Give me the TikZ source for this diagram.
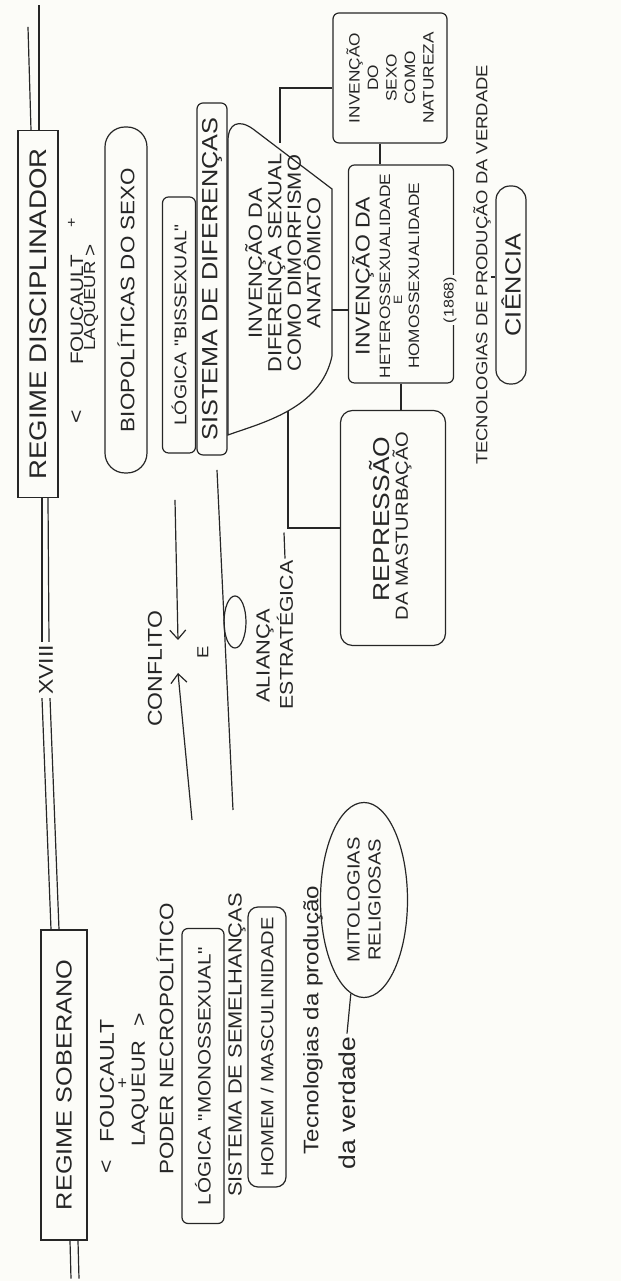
\documentclass[tikz,border=0pt]{standalone}
\usepackage{fontspec}
\setmainfont{Liberation Sans}
\newfontfamily\hand[FakeStretch=1.15]{Liberation Sans}
\usetikzlibrary{arrows.meta,shapes.geometric}
\definecolor{ink}{RGB}{38,38,38}
\definecolor{paper}{RGB}{252,252,248}
\newcommand{\myfs}[2]{\fontsize{#1}{#2}\selectfont}
\begin{document}
\begin{tikzpicture}[x=1pt,y=1pt,
  pen/.style={draw=ink, line width=1.2pt},
  txt/.style={text=ink, inner sep=0pt},
  box/.style={pen, text=ink, inner sep=0pt, rectangle},
  rbox/.style={box, rounded corners=6pt},
  arr/.style={pen, -{Straight Barb[length=9pt,width=16pt]}}]
\begin{scope}[rotate=90, transform shape]
\path[use as bounding box] (0,0) rectangle (1281,621);
\fill[paper] (0,0) rectangle (1281,621);

% ---------- timeline ----------
\node[box, minimum width=310pt, minimum height=46pt, font={\hand\myfs{22}{26}}] (sob) at (196,557) {REGIME SOBERANO};
\node[txt, inner sep=3pt, font={\hand\myfs{20}{24}}] (xv) at (611,575) {XVIII};
\node[box, minimum width=367pt, minimum height=40pt, font={\hand\myfs{24}{28}}] (dis) at (967,583) {REGIME DISCIPLINADOR};
\draw[pen] ([yshift=-6pt]sob.west) -- ++(-38,-1);
\draw[pen] ([yshift=-14pt]sob.west) -- ++(-38,-1);
\draw[pen] ([yshift=13pt]sob.east) -- ([yshift=4pt]xv.west);
\draw[pen] ([yshift=5pt]sob.east) -- ([yshift=-4pt]xv.west);
\draw[pen] ([yshift=4pt]xv.east) -- ([yshift=-4pt]dis.west);
\draw[pen] ([yshift=-3pt]xv.east) -- ([yshift=-10pt]dis.west);
\draw[pen] ([yshift=7pt]dis.east) -- ++(103,3);
\draw[pen] ([yshift=-1pt]dis.east) -- ++(125,0);

% ---------- regime soberano side ----------
\node[txt, font={\hand\myfs{20}{22}}] (slt) at (114,514) {<};
\node[txt, font={\hand\myfs{20}{22}}] (sfou) at (200,514) {FOUCAULT};
\node[txt, font={\hand\myfs{16}{18}}] (splus) at (198,498) {+};
\node[txt, font={\hand\myfs{19}{22}}] (slaq) at (187,481) {LAQUEUR};
\node[txt, font={\hand\myfs{20}{22}}] (sgt) at (261,481) {>};
\node[txt, font={\hand\myfs{19.5}{22}}] (nec) at (242,456) {PODER NECROPOLÍTICO};
\node[rbox, minimum width=295pt, minimum height=42pt, font={\hand\myfs{18}{20}}] (lmo) at (205,418) {LÓGICA "MONOSSEXUAL"};
\node[txt, font={\hand\myfs{19}{21}}] (sem) at (236,384) {SISTEMA DE SEMELHANÇAS};
\node[rbox, rounded corners=10pt, minimum width=280pt, minimum height=38pt, font={\hand\myfs{17.5}{20}}] (hom) at (234,354) {HOMEM / MASCULINIDADE};
\node[txt, font={\hand\myfs{21}{24}}] (tp) at (261,308) {Tecnologias da produção};
\node[txt, font={\hand\myfs{23}{26}}] (ver) at (178,274) {da verdade};
\node[pen, ellipse, text=ink, inner sep=0pt, minimum width=195pt, minimum height=87pt, align=center, font={\hand\myfs{17.5}{21}}] (mito) at (381,257) {MITOLOGIAS\\RELIGIOSAS};
\draw[pen] ([xshift=3pt]ver.east) -- (mito.172);

% ---------- conflito / alianca ----------
\node[txt, font={\hand\myfs{20}{22}}] (con) at (612,466) {CONFLITO};
\coordinate (a1) at (461,429);
\coordinate (a1t) at (608,443);
\coordinate (a2) at (781,446);
\coordinate (a2t) at (641,443);
\draw[arr] (a1) -- (a1t);
\draw[arr] (a2) -- (a2t);
\node[txt, font={\hand\myfs{16}{18}}] (e) at (629,418) {E};
\coordinate (l1) at (811,404);
\coordinate (l2) at (471,388);
\draw[pen] (l1) -- (l2);
\node[pen, ellipse, minimum width=52pt, minimum height=22pt, inner sep=0pt] (ov) at (659,386) {};
\node[txt, font={\hand\myfs{19}{21}}] (ali) at (625,356) {ALIANÇA};
\node[txt, font={\hand\myfs{18.5}{21}}] (est) at (646,336) {ESTRATÉGICA};
\draw[pen] ([xshift=2pt]est.east) -- ++(26,1);

% ---------- regime disciplinador side ----------
\node[txt, font={\hand\myfs{20}{22}}] (dlt) at (864,544) {<};
\node[txt, font={\hand\myfs{18}{20}}] (dfou) at (971,544) {FOUCAULT};
\node[txt, font={\hand\myfs{14}{16}}] (dplus) at (1058,549) {+};
\node[txt, font={\hand\myfs{16}{18}}] (dlaq) at (975,530) {LAQUEUR};
\node[txt, font={\hand\myfs{18}{20}}] (dgt) at (1031,530) {>};
\node[box, rounded corners=20pt, minimum width=346pt, minimum height=42pt, font={\hand\myfs{19.5}{22}}] (bio) at (981,495) {BIOPOLÍTICAS DO SEXO};
\node[rbox, minimum width=256pt, minimum height=33pt, font={\hand\myfs{17}{20}}] (lbi) at (956,442) {LÓGICA "BISSEXUAL"};
\node[rbox, minimum width=352pt, minimum height=30pt, font={\hand\myfs{22}{24}}] (sdi) at (1002,409) {SISTEMA DE DIFERENÇAS};

% blob
\draw[pen] (846,393) .. controls (858,360) and (872,300) .. (925,289) -- (1092,289) -- (1152,368) .. controls (1162,382) and (1158,393) .. (1140,393) -- cycle;
\coordinate (bl) at (870,333);
\coordinate (bR) at (1138,341);
\coordinate (bB) at (971,289);
\node[txt, align=center, font={\hand\myfs{19}{19.5}}] (blob) at (1018,338) {INVENÇÃO DA\\DIFERENÇA SEXUAL\\COMO DIMORFISMO\\ANATÔMICO};

\node[rbox, minimum width=130pt, minimum height=114pt, align=center, font={\hand\myfs{15}{18.5}}] (nat) at (1203,231) {INVENÇÃO\\DO\\SEXO\\COMO\\NATUREZA};
\node[rbox, minimum width=218pt, minimum height=105pt] (het) at (1007,220) {};
\node[txt, font={\hand\myfs{20}{22}}] (h1) at (1005,258) {INVENÇÃO DA};
\node[txt, font={\hand\myfs{15}{18}}] (h2) at (1005,236) {HETEROSSEXUALIDADE};
\node[txt, font={\hand\myfs{12}{14}}] (h3) at (981,223) {E};
\node[txt, font={\hand\myfs{15}{18}}] (h4) at (1005,207) {HOMOSSEXUALIDADE};
\node[txt, fill=paper, inner sep=2pt, font={\hand\myfs{14}{16}}] (yr) at (981,171) {(1868)};
\node[box, rounded corners=12pt, minimum width=235pt, minimum height=105pt] (rep) at (753,228) {};
\node[txt, font={\hand\myfs{23}{25}}] (r1) at (762,241) {REPRESSÃO};
\node[txt, font={\hand\myfs{17.5}{20}}] (r2) at (755,219) {DA MASTURBAÇÃO};

\draw[pen] ([xshift=-10pt]nat.north) |- (bR);
\draw[pen] ([yshift=10pt]nat.west) -- ([yshift=10pt]nat.west -| het.east);
\draw[pen] (bB) -- (bB |- het.north);
\draw[pen] (het.west) -- (het.west -| rep.east);
\draw[pen] (bl) -| (rep.north);

\node[txt, font={\hand\myfs{16}{18}}] (tec) at (1016,139) {TECNOLOGIAS DE PRODUÇÃO DA VERDADE};
\node[box, rounded corners=14pt, minimum width=198pt, minimum height=30pt, font={\hand\myfs{22}{24}}] (cie) at (996,110) {CIÊNCIA};
\draw[pen] (tec.south -| 1004,0) -- (cie.north -| 1004,0);
\end{scope}
\end{tikzpicture}
\end{document}
